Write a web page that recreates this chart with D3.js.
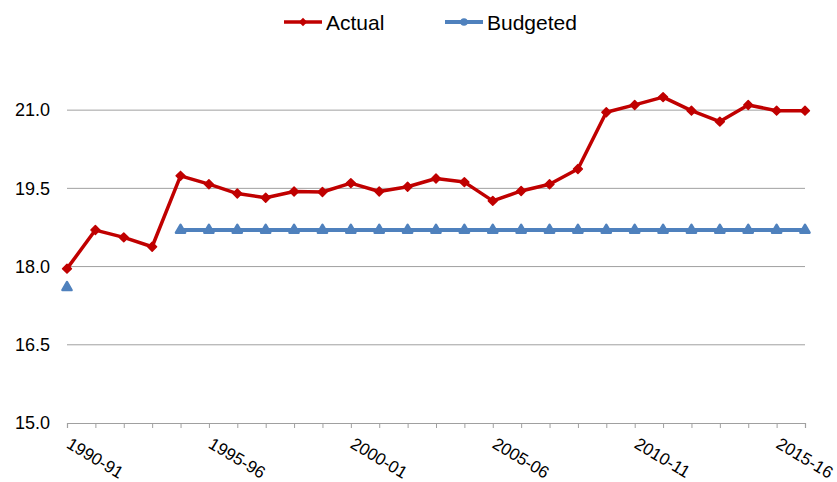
<!DOCTYPE html>
<html>
<head>
<meta charset="utf-8">
<script src="https://cdn.jsdelivr.net/npm/d3@7"></script>
<style>
  body { margin: 0; background: #fff; }
  text { font-family: "Liberation Sans", Arial, sans-serif; fill: #000; }
</style>
</head>
<body>
<div id="chart"></div>
<script>
// Fiscal years, 1990-91 .. 2016-17
const years = [
    "1990-91", "1991-92", "1992-93", "1993-94", "1994-95", "1995-96", "1996-97",
    "1997-98", "1998-99", "1999-00", "2000-01", "2001-02", "2002-03", "2003-04",
    "2004-05", "2005-06", "2006-07", "2007-08", "2008-09", "2009-10", "2010-11",
    "2011-12", "2012-13", "2013-14", "2014-15", "2015-16", "2016-17"
];
const labelledYears = ["1990-91", "1995-96", "2000-01", "2005-06", "2010-11", "2015-16"];

const actual = [
    17.96, 18.70, 18.56, 18.38, 19.74, 19.58, 19.40, 19.32, 19.44, 19.43,
    19.60, 19.44, 19.53, 19.69, 19.62, 19.26, 19.45, 19.58, 19.87, 20.96,
    21.10, 21.25, 20.99, 20.78, 21.10, 20.99, 20.99
];
const budgeted = [
    17.6, null, null, null, 18.7, 18.7, 18.7, 18.7, 18.7, 18.7,
    18.7, 18.7, 18.7, 18.7, 18.7, 18.7, 18.7, 18.7, 18.7, 18.7,
    18.7, 18.7, 18.7, 18.7, 18.7, 18.7, 18.7
];
const yTicks = [15.0, 16.5, 18.0, 19.5, 21.0];

const width = 837, height = 482;
const margin = { top: 58, right: 32, bottom: 59, left: 67 };
const innerW = width - margin.left - margin.right;
const innerH = height - margin.top - margin.bottom;

const svg = d3.select("#chart").append("svg")
    .attr("width", width)
    .attr("height", height);

const g = svg.append("g")
    .attr("transform", `translate(${margin.left},${margin.top})`);

const x = d3.scalePoint()
    .domain(years)
    .range([0, innerW]);

const y = d3.scaleLinear()
    .domain([15, 22])
    .range([innerH, 0]);

// Gridlines
g.selectAll(".grid")
    .data(yTicks.slice(1))
    .enter().append("line")
    .attr("x1", 0).attr("x2", innerW)
    .attr("y1", d => y(d)).attr("y2", d => y(d))
    .attr("stroke", "#a0a0a0")
    .attr("stroke-width", 1);

// Y axis labels
g.append("g")
    .call(d3.axisLeft(y).tickValues(yTicks).tickFormat(d3.format(".1f")).tickSize(0).tickPadding(17))
    .call(a => a.select(".domain").remove())
    .selectAll("text")
    .style("font-size", "18px")
    .style("font-family", "Liberation Sans, Arial, sans-serif");

// X axis
const xAxis = g.append("g")
    .attr("transform", `translate(0,${innerH})`)
    .call(d3.axisBottom(x).tickSize(5).tickFormat(""));
xAxis.select(".domain").attr("stroke", "#a0a0a0").attr("stroke-width", 1.2);
xAxis.selectAll(".tick line").attr("stroke", "#a0a0a0");

g.selectAll(".xlabel")
    .data(labelledYears)
    .enter().append("text")
    .attr("transform", d => `translate(${x(d) + 5},${innerH + 13}) rotate(31)`)
    .attr("dy", "0.75em")
    .style("font-size", "17px")
    .text(d => d);

// Series
const actualColor = "#c00000";
const budgetColor = "#4f81bd";

const line = d3.line()
    .defined(d => d.v != null)
    .x(d => x(d.year))
    .y(d => y(d.v));

const actualPts = years.map((yr, i) => ({ year: yr, v: actual[i] }));
const budgetPts = years.map((yr, i) => ({ year: yr, v: budgeted[i] }));

g.append("path")
    .datum(budgetPts)
    .attr("fill", "none")
    .attr("stroke", budgetColor)
    .attr("stroke-width", 4)
    .attr("d", line);

g.selectAll(".bmark")
    .data(budgetPts.filter(d => d.v != null))
    .enter().append("path")
    .attr("transform", d => `translate(${x(d.year)},${y(d.v)})`)
    .attr("d", d3.symbol(d3.symbolTriangle, 36))
    .attr("fill", budgetColor)
    .attr("stroke", budgetColor)
    .attr("stroke-width", 2.5)
    .attr("stroke-linejoin", "round");

g.append("path")
    .datum(actualPts)
    .attr("fill", "none")
    .attr("stroke", actualColor)
    .attr("stroke-width", 3.5)
    .attr("stroke-linejoin", "round")
    .attr("d", line);

g.selectAll(".amark")
    .data(actualPts)
    .enter().append("path")
    .attr("transform", d => `translate(${x(d.year)},${y(d.v)})`)
    .attr("d", d3.symbol(d3.symbolDiamond2, 50))
    .attr("fill", actualColor)
    .attr("stroke", actualColor)
    .attr("stroke-width", 1.5)
    .attr("stroke-linejoin", "round");

// Legend
const legend = svg.append("g");
const items = [
    { name: "Actual", color: actualColor, x: 284, sym: d3.symbolDiamond2, w: 3.5 },
    { name: "Budgeted", color: budgetColor, x: 445, sym: d3.symbolCircle, w: 4 }
];
items.forEach(it => {
    legend.append("line")
        .attr("x1", it.x).attr("x2", it.x + 38)
        .attr("y1", 22).attr("y2", 22)
        .attr("stroke", it.color)
        .attr("stroke-width", it.w);
    legend.append("path")
        .attr("transform", `translate(${it.x + 19},22)`)
        .attr("d", d3.symbol(it.sym, 45))
        .attr("fill", it.color);
    legend.append("text")
        .attr("x", it.x + 42)
        .attr("y", 30)
        .style("font-size", "21px")
        .text(it.name);
});
</script>
</body>
</html>
